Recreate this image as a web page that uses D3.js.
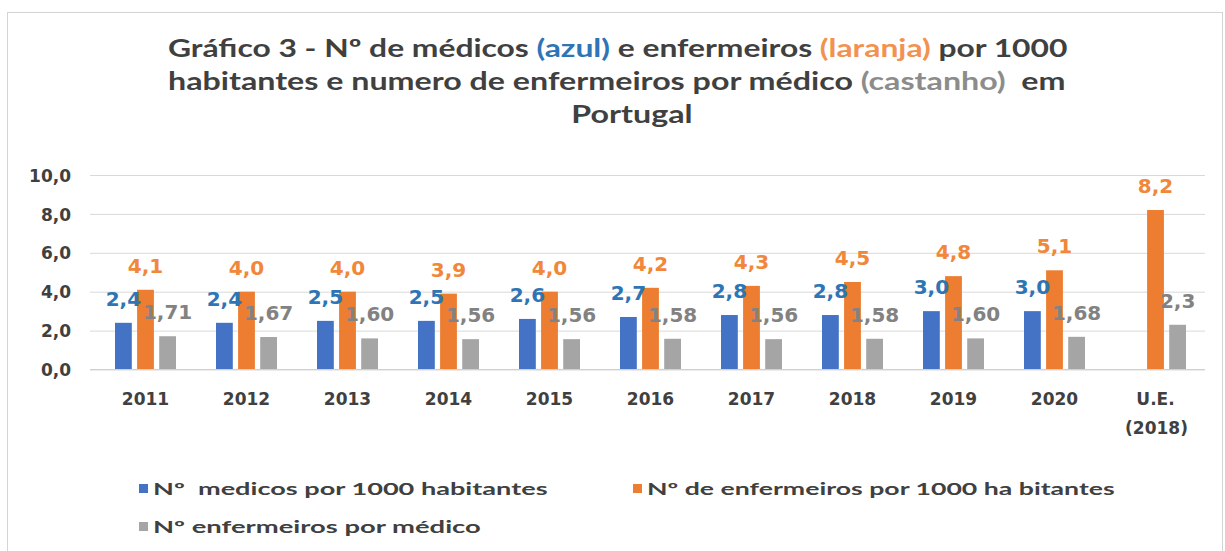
<!DOCTYPE html>
<html>
<head>
<meta charset="utf-8">
<script src="https://cdn.jsdelivr.net/npm/d3@7"></script>
<style>
  body { margin: 0; background: #fff; }
  svg { display: block; }
  text { white-space: pre; }
</style>
</head>
<body>
<svg id="chart" width="1225" height="551"></svg>
<script>
// data
var categories = ["2011", "2012", "2013", "2014", "2015", "2016", "2017", "2018", "2019", "2020", "UE"];
var catLabels = [["2011"], ["2012"], ["2013"], ["2014"], ["2015"], ["2016"], ["2017"], ["2018"], ["2019"], ["2020"], ["U.E.", "(2018)"]];
var medicos = [2.4, 2.4, 2.5, 2.5, 2.6, 2.7, 2.8, 2.8, 3.0, 3.0, null];
var enfermeiros = [4.1, 4.0, 4.0, 3.9, 4.0, 4.2, 4.3, 4.5, 4.8, 5.1, 8.2];
var ratio = [1.71, 1.67, 1.60, 1.56, 1.56, 1.58, 1.56, 1.58, 1.60, 1.68, 2.3];
var ratioDecimals = [2, 2, 2, 2, 2, 2, 2, 2, 2, 2, 1];
var yTicks = [0, 2, 4, 6, 8, 10];

var series = [
    {key: "med", values: medicos, fill: "#4472c4", label: "#2e75b6", name: "Nº  medicos por 1000 habitantes"},
    {key: "enf", values: enfermeiros, fill: "#ed7d31", label: "#f0873a", name: "Nº de enfermeiros por 1000 ha bitantes"},
    {key: "rat", values: ratio, fill: "#a5a5a5", label: "#828282", name: "Nº enfermeiros por médico"}
];

var TXT = "#404040";
var NUMFONT = "'DejaVu Sans', Verdana, sans-serif";
var SANS = "Lato, 'Open Sans', sans-serif";

var svg = d3.select("#chart");

// frame
svg.append("rect")
    .attr("x", 7.5).attr("y", 12.5)
    .attr("width", 1215).attr("height", 560)
    .attr("fill", "none").attr("stroke", "#d4d4d4");

// stretch a text horizontally so that it fills a given width
function fit(sel, x0, y0, target){
    var w = sel.node().getComputedTextLength();
    sel.attr("text-anchor", "start")
        .attr("transform", "translate(" + x0 + "," + y0 + ") scale(" + (target / w) + ",1)");
    return target / w;
}

// title
var titleLines = [
    [["Gráfico 3 - Nº de médicos ", TXT], ["(azul)", "#2e75b6"], [" e enfermeiros ", TXT], ["(laranja)", "#f29250"], [" por 1000", TXT]],
    [["habitantes e numero de enfermeiros por médico ", TXT], ["(castanho)", "#8c8c8c"], ["  em", TXT]],
    [["Portugal", TXT]]
];
var titleBox = [[168, 57, 900], [168, 90, 898]];
var k = 1;
titleLines.forEach(function(parts, i){
    var t = svg.append("text")
        .attr("font-family", SANS).attr("font-weight", 700)
        .attr("font-size", 24);
    parts.forEach(function(p){ t.append("tspan").attr("fill", p[1]).text(p[0]); });
    if (i < 2) {
        k = fit(t, titleBox[i][0], titleBox[i][1], titleBox[i][2]);
    } else {
        var w = t.node().getComputedTextLength() * k;
        fit(t, 632 - w / 2, 123, w);
    }
});

// scales
var x = d3.scaleBand().domain(categories).range([95, 1206]).paddingInner(0).paddingOuter(0);
var xs = d3.scaleBand().domain(series.map(function(s){ return s.key; }))
    .range([-30.5, 30.5]).paddingInner(0.24);
var y = d3.scaleLinear().domain([0, 10]).range([369.5, 175]);

var fmt = function(v, d){ return d3.format("." + d + "f")(v).replace(".", ","); };

// y axis + gridlines
var yAxis = svg.append("g")
    .attr("transform", "translate(90,0)")
    .call(d3.axisLeft(y).tickValues(yTicks).tickSize(-1115).tickPadding(19)
        .tickFormat(function(d){ return fmt(d, 1); }));
yAxis.select(".domain").remove();
yAxis.selectAll("line").attr("stroke", "#d9d9d9");
yAxis.selectAll("text")
    .attr("font-family", NUMFONT).attr("font-weight", "bold")
    .attr("font-size", 17).attr("fill", TXT).attr("dy", "0.36em");

// x labels
var xAxis = svg.append("g")
    .attr("transform", "translate(0,369.5)")
    .call(d3.axisBottom(x).tickSize(0).tickFormat(""));
xAxis.select(".domain").remove();
xAxis.selectAll(".tick").each(function(d, i){
    var t = d3.select(this).select("text")
        .attr("font-family", NUMFONT).attr("font-weight", "bold")
        .attr("font-size", 17).attr("fill", TXT)
        .attr("y", 0).attr("dy", null);
    catLabels[i].forEach(function(line, j){
        t.append("tspan").attr("x", j ? 1 : 0).attr("y", 35 + j * 29).text(line);
    });
});

// bars
var groups = svg.append("g").selectAll("g")
    .data(categories)
    .join("g")
    .attr("transform", function(d){ return "translate(" + (x(d) + x.bandwidth() / 2) + ",0)"; });

series.forEach(function(s){
    groups.filter(function(d, i){ return s.values[i] != null; })
        .append("rect")
        .attr("x", xs(s.key))
        .attr("width", xs.bandwidth())
        .attr("y", function(d){ return y(s.values[categories.indexOf(d)]); })
        .attr("height", function(d){ return y(0) - y(s.values[categories.indexOf(d)]); })
        .attr("fill", s.fill);
});

// data labels (drawn after all bars, like the original they overlap neighbours)
series.forEach(function(s){
    groups.filter(function(d, i){ return s.values[i] != null; })
        .append("text")
        .attr("x", xs(s.key) + xs.bandwidth() / 2)
        .attr("y", function(d){ return y(s.values[categories.indexOf(d)]) - 17; })
        .attr("text-anchor", "middle")
        .attr("font-family", NUMFONT).attr("font-weight", "bold")
        .attr("font-size", 20).attr("fill", s.label)
        .text(function(d){
            var i = categories.indexOf(d);
            return fmt(s.values[i], s.key == "rat" ? ratioDecimals[i] : 1);
        });
});

// baseline
svg.append("line")
    .attr("x1", 90).attr("x2", 1205)
    .attr("y1", y(0)).attr("y2", y(0))
    .attr("stroke", "#d0d0d0");

// legend
var legendPos = [[139, 489, 395], [633, 489, 468], [139, 527, 328]];
series.forEach(function(s, i){
    var p = legendPos[i];
    svg.append("rect")
        .attr("x", p[0]).attr("y", p[1] - 5)
        .attr("width", 9).attr("height", 9)
        .attr("fill", s.fill);
    var t = svg.append("text")
        .attr("font-family", SANS).attr("font-weight", 700)
        .attr("font-size", 17).attr("fill", TXT)
        .text(s.name);
    fit(t, p[0] + 14, p[1] + 6, p[2]);
});
</script>
</body>
</html>
